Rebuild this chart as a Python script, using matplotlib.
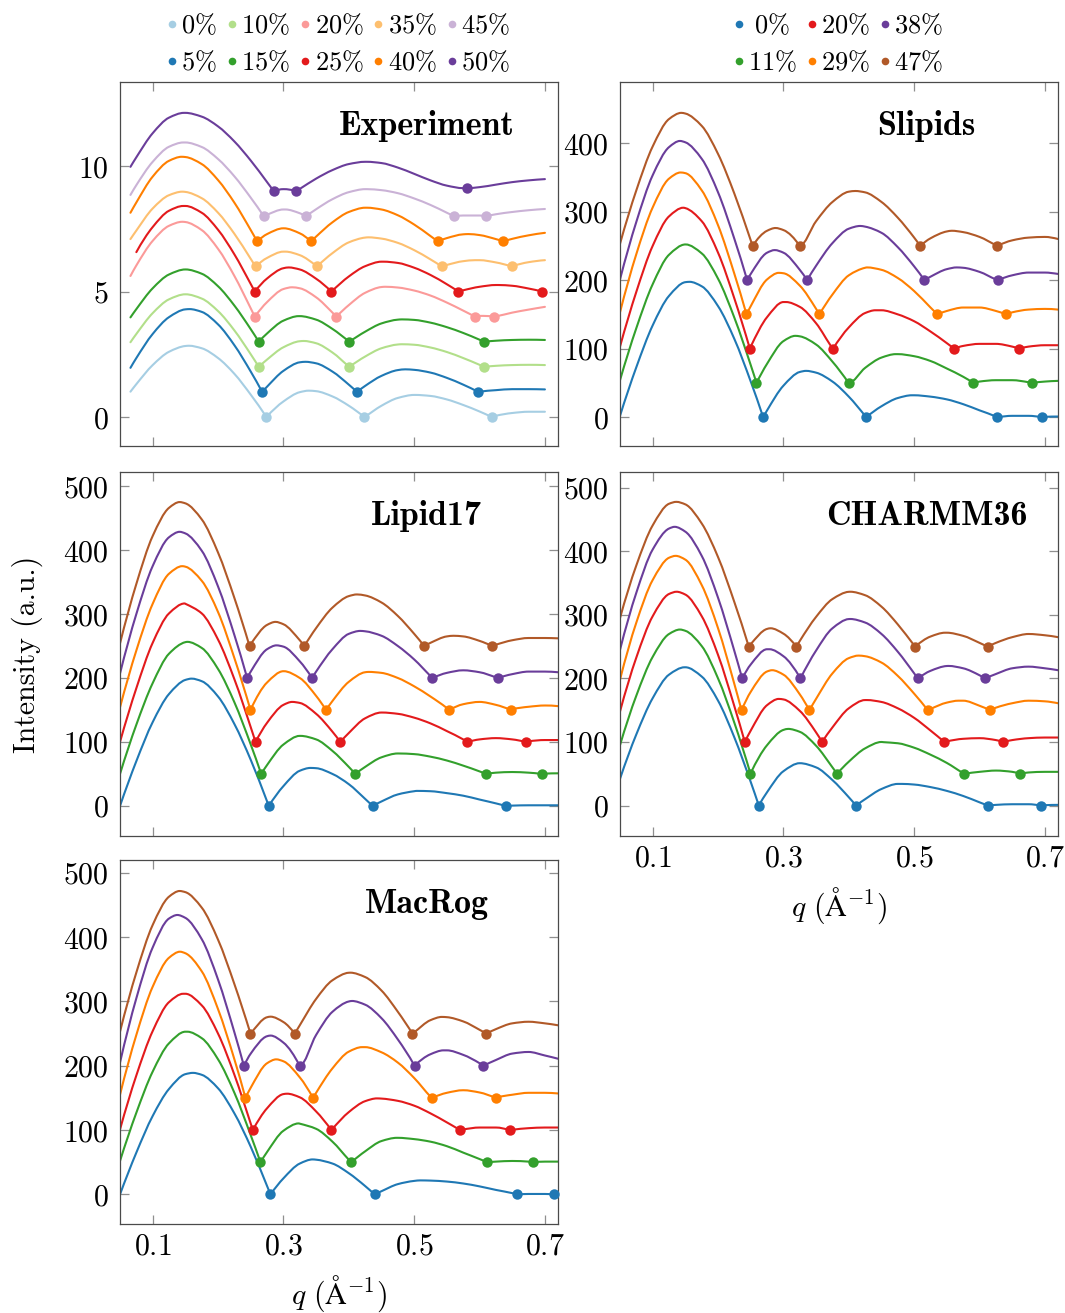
import io
import os
import numpy as np
import matplotlib
matplotlib.use("Agg")
import matplotlib.pyplot as plt
from matplotlib import mathtext
from matplotlib.lines import Line2D
from matplotlib.path import Path
from matplotlib.patches import PathPatch
from matplotlib.font_manager import FontProperties

nan = float("nan")

# ---------------- data ----------------
EXP_Q = [0.066, 0.075, 0.100, 0.125, 0.150, 0.175, 0.200, 0.225, 0.250, 0.275, 0.300, 0.325, 0.350, 0.375,
         0.400, 0.425, 0.450, 0.475, 0.500, 0.525, 0.550, 0.575, 0.600, 0.625, 0.650, 0.675, 0.700]
SIM_Q = [0.050, 0.075, 0.100, 0.125, 0.150, 0.175, 0.200, 0.225, 0.250, 0.275, 0.300, 0.325, 0.350, 0.375,
         0.400, 0.425, 0.450, 0.475, 0.500, 0.525, 0.550, 0.575, 0.600, 0.625, 0.650, 0.675, 0.700, 0.720]

EXP_LABELS = ["0", "5", "10", "15", "20", "25", "35", "40", "45", "50"]
SIM_LABELS = ["0", "11", "20", "29", "38", "47"]

# Experiment
exp_00 = [1.01, 1.31, 2.07, 2.60, 2.83, 2.74, 2.35, 1.72, 0.89, 0.03, 0.62, 0.99, 1.03, 0.82,
          0.45, 0.02, 0.45, 0.76, 0.88, 0.84, 0.70, 0.48, 0.22, 0.05, 0.16, 0.21, 0.21]
exp_00_pk = [(0.1555, 2.84), (0.3387, 1.05), (0.5015, 0.88)]
exp_00_mn = [(0.274, 0.0), (0.4237, 0.0), (0.6186, 0.0)]
exp_05 = [1.96, 2.35, 3.31, 3.98, 4.29, 4.19, 3.69, 2.86, 1.81, 1.21, 1.84, 2.18, 2.14, 1.81,
          1.29, 1.24, 1.64, 1.87, 1.88, 1.77, 1.56, 1.29, 1.01, 1.07, 1.11, 1.11, 1.10]
exp_05_pk = [(0.1565, 4.30), (0.3336, 2.20), (0.4863, 1.90)]
exp_05_mn = [(0.2675, 1.0), (0.4125, 1.0), (0.598, 1.0)]
exp_10 = [2.98, 3.31, 4.14, 4.69, 4.89, 4.72, 4.22, 3.45, 2.50, 2.29, 2.78, 3.02, 2.94, 2.57,
          2.02, 2.41, 2.74, 2.89, 2.88, 2.77, 2.59, 2.35, 2.08, 2.04, 2.07, 2.08, 2.07]
exp_10_pk = [(0.1504, 4.89), (0.331, 3.03), (0.4812, 2.90)]
exp_10_mn = [(0.2623, 2.0), (0.401, 2.0), (0.607, 2.0)]
exp_15 = [3.97, 4.30, 5.13, 5.68, 5.88, 5.71, 5.21, 4.44, 3.50, 3.33, 3.84, 4.02, 3.88, 3.51,
          3.02, 3.40, 3.73, 3.88, 3.87, 3.76, 3.58, 3.35, 3.08, 3.04, 3.07, 3.08, 3.07]
exp_15_pk = [(0.1504, 5.88), (0.3234, 4.02), (0.4812, 3.89)]
exp_15_mn = [(0.2623, 3.0), (0.401, 3.0), (0.607, 3.0)]
exp_20 = [5.62, 6.04, 7.02, 7.62, 7.77, 7.45, 6.70, 5.62, 4.33, 4.58, 5.10, 5.13, 4.77, 4.16,
          4.46, 4.95, 5.18, 5.16, 5.04, 4.84, 4.56, 4.24, 4.03, 4.01, 4.16, 4.28, 4.39]
exp_20_pk = [(0.1453, 7.78), (0.3133, 5.17), (0.4557, 5.19)]
exp_20_mn = [(0.2562, 4.0), (0.381, 4.0), (0.593, 4.0), (0.6226, 4.0)]
exp_25 = [nan, 6.57, 7.57, 8.22, 8.41, 8.14, 7.46, 6.48, 5.30, 5.52, 5.93, 5.88, 5.51, 5.04,
          5.60, 6.01, 6.19, 6.14, 5.95, 5.66, 5.29, 5.05, 5.19, 5.26, 5.23, 5.12, 5.03]
exp_25_pk = [(0.1468, 8.41), (0.308, 5.96), (0.4532, 6.19), (0.6287, 5.26)]
exp_25_mn = [(0.2562, 5.0), (0.3733, 5.0), (0.5677, 5.0), (0.696, 5.0)]
exp_35 = [7.09, 7.43, 8.31, 8.84, 8.97, 8.72, 8.14, 7.30, 6.30, 6.34, 6.59, 6.45, 6.03, 6.53,
          6.96, 7.15, 7.11, 6.94, 6.65, 6.28, 6.06, 6.21, 6.25, 6.16, 6.01, 6.17, 6.25]
exp_35_pk = [(0.1453, 8.98), (0.303, 6.59), (0.430, 7.16), (0.593, 6.25)]
exp_35_mn = [(0.2573, 6.0), (0.3514, 6.0), (0.5422, 6.0), (0.649, 6.0)]
exp_40 = [8.14, 8.55, 9.58, 10.21, 10.36, 10.08, 9.44, 8.54, 7.45, 7.29, 7.52, 7.32, 7.19, 7.76,
          8.17, 8.34, 8.27, 8.04, 7.67, 7.21, 7.13, 7.28, 7.25, 7.09, 7.10, 7.24, 7.34]
exp_40_pk = [(0.1443, 10.37), (0.3005, 7.52), (0.4278, 8.34), (0.583, 7.29)]
exp_40_mn = [(0.2598, 7.0), (0.3423, 7.0), (0.536, 7.0), (0.6363, 7.0)]
exp_45 = [8.85, 9.24, 10.17, 10.77, 10.94, 10.76, 10.28, 9.59, 8.74, 8.06, 8.27, 8.12, 8.28, 8.68,
          8.96, 9.08, 9.04, 8.92, 8.71, 8.45, 8.14, 8.03, 8.03, 8.08, 8.17, 8.24, 8.29]
exp_45_pk = [(0.1468, 10.94), (0.303, 8.27), (0.4278, 9.08)]
exp_45_mn = [(0.27, 8.0), (0.3346, 8.0), (0.561, 8.0), (0.61, 8.0)]
exp_50 = [9.97, 10.35, 11.31, 11.93, 12.12, 11.97, 11.58, 10.98, 10.22, 9.36, 9.08, 9.09, 9.50, 9.84,
          10.08, 10.17, 10.12, 9.94, 9.69, 9.43, 9.22, 9.12, 9.16, 9.26, 9.36, 9.43, 9.48]
exp_50_pk = [(0.1478, 12.12), (0.4278, 10.17)]
exp_50_mn = [(0.2852, 9.0), (0.3194, 9.0), (0.5805, 9.12)]

# Slipids
sli_00 = [2, 73, 134, 177, 197, 191, 162, 114, 52, 10, 46, 66, 65, 52,
          30, 2, 16, 28, 32, 30, 26, 19, 10, 1, 2, 2, 0.5, 1]
sli_00_pk = [(0.1565, 197.5), (0.3347, 67.6), (0.4965, 32)]
sli_00_mn = [(0.269, 0), (0.4267, 0), (0.6272, 0), (0.6959, 0)]
sli_11 = [54, 130, 194, 237, 252, 239, 202, 145, 76, 78, 111, 118, 106, 81,
          50, 72, 87, 92, 89, 82, 71, 59, 52, 54, 54, 51, 52, 53]
sli_11_pk = [(0.1504, 252), (0.3183, 118.7), (0.4718, 92)]
sli_11_mn = [(0.2588, 50), (0.3997, 50), (0.5905, 50), (0.6797, 50)]
sli_20 = [103, 183, 250, 293, 305, 286, 240, 173, 103, 146, 168, 161, 137, 101,
          131, 152, 156, 150, 140, 125, 108, 104, 107, 107, 103, 103, 105, 105]
sli_20_pk = [(0.1468, 305.6), (0.3041, 168), (0.4405, 156)]
sli_20_mn = [(0.2486, 100), (0.3759, 100), (0.561, 100), (0.6608, 100)]
sli_29 = [153, 238, 306, 348, 356, 331, 280, 209, 162, 201, 210, 192, 158, 179,
          207, 218, 215, 203, 184, 160, 155, 160, 160, 155, 153, 157, 158, 157]
sli_29_pk = [(0.1427, 357), (0.2928, 210.6), (0.4278, 218.5)]
sli_29_mn = [(0.2435, 150), (0.355, 150), (0.5356, 150), (0.6405, 150)]
sli_38 = [201, 285, 353, 394, 401, 377, 328, 260, 209, 240, 240, 215, 221, 254,
          275, 278, 269, 248, 220, 205, 216, 218, 212, 201, 207, 211, 211, 209]
sli_38_pk = [(0.1417, 403), (0.2867, 243.8), (0.4176, 279), (0.565, 218.5)]
sli_38_mn = [(0.2445, 200), (0.3362, 200), (0.5157, 200), (0.6278, 200)]
sli_47 = [253, 331, 395, 435, 443, 425, 384, 326, 258, 272, 273, 250, 286, 314,
          329, 328, 314, 291, 262, 261, 271, 270, 263, 251, 258, 262, 263, 260]
sli_47_pk = [(0.1438, 444), (0.2878, 276), (0.4099, 330), (0.5575, 272)]
sli_47_mn = [(0.2529, 250), (0.3249, 250), (0.5092, 250), (0.6272, 250)]

# Lipid17
l17_00 = [0, 70, 131, 175, 197, 195, 171, 128, 72, 7, 31, 55, 59, 50,
          34, 11, 7, 18, 23, 23, 20, 16, 10, 4, 0.5, 1, 1, 1]
l17_00_pk = [(0.1595, 199), (0.3412, 59.4), (0.5041, 23.5)]
l17_00_mn = [(0.2776, 0), (0.4364, 0), (0.64, 0)]
l17_11 = [50, 127, 192, 238, 256, 247, 214, 162, 96, 64, 96, 109.5, 104, 86,
          61, 61, 76, 82, 81, 77, 71, 63, 54, 52, 53, 52, 50.5, 51]
l17_11_pk = [(0.153, 256.5), (0.326, 109.5), (0.476, 82)]
l17_11_mn = [(0.266, 50), (0.41, 50), (0.61, 50), (0.695, 50)]
l17_20 = [100, 184, 255, 301, 316, 301, 260, 198, 123, 130, 158, 161, 144, 116,
          114, 137, 146, 144, 138, 129, 117, 104, 104, 106, 104, 101, 103, 103]
l17_20_pk = [(0.1489, 316.5), (0.3133, 162.6), (0.4507, 146)]
l17_20_mn = [(0.2573, 100), (0.387, 100), (0.5814, 100), (0.671, 100)]
l17_29 = [154, 243, 316, 363, 374, 352, 303, 231, 151, 193, 210.6, 200, 172, 164,
          194, 209, 208, 200, 187, 171, 153, 159, 162.6, 158, 151, 155, 157, 156]
l17_29_pk = [(0.1453, 374.8), (0.3005, 210.6), (0.4303, 209.5)]
l17_29_mn = [(0.2496, 150), (0.3652, 150), (0.5534, 150), (0.648, 150)]
l17_38 = [207, 300, 375, 420, 426, 399, 343, 267, 210, 245, 249, 226, 210, 245,
          269, 273, 266, 250, 229, 203, 208, 212, 209, 201, 206, 210, 210, 209]
l17_38_pk = [(0.1412, 428.5), (0.2893, 251), (0.4176, 273.6)]
l17_38_mn = [(0.2445, 200), (0.3438, 200), (0.528, 200), (0.6276, 200)]
l17_47 = [254, 347, 422, 466, 473, 448, 396, 325, 253, 283, 284, 259, 278, 310,
          328, 329, 318, 297, 269, 255, 265, 265, 258, 252, 259, 262.5, 262.5, 262]
l17_47_pk = [(0.1412, 475), (0.2878, 287.7), (0.4125, 330.6), (0.56, 266)]
l17_47_mn = [(0.2481, 250), (0.332, 250), (0.5153, 250), (0.6194, 250)]

# CHARMM36
c36_00 = [42, 112, 169, 206, 217.6, 203, 165, 107, 37, 21, 54, 66.6, 60, 40,
          13, 10, 26, 34, 33, 29, 23, 15, 5, 1, 2, 2, 0.5, 1]
c36_00_pk = [(0.1489, 217.6), (0.3249, 66.6), (0.4812, 34)]
c36_00_mn = [(0.2623, 0), (0.411, 0), (0.6125, 0), (0.694, 0)]
c36_11 = [95, 173, 234, 270, 275, 251, 200, 130, 51, 95, 119, 116, 94, 60,
          69, 90, 100, 98, 91, 80, 67, 51, 53, 55, 53, 52, 53, 53]
c36_11_pk = [(0.1417, 277), (0.3072, 120.6), (0.4532, 99.7)]
c36_11_mn = [(0.2496, 50), (0.382, 50), (0.5768, 50), (0.6618, 50)]
c36_20 = [148, 233, 298, 333, 332, 298, 237, 156, 118, 158, 167, 149, 115, 123,
          153, 166, 163, 153, 138, 118, 101, 105, 106, 103, 103, 106, 107, 107]
c36_20_pk = [(0.1366, 336.5), (0.2928, 167.8), (0.4278, 166)]
c36_20_mn = [(0.2409, 100), (0.3591, 100), (0.5462, 100), (0.6364, 100)]
c36_29 = [198, 288, 355, 390, 387, 347, 279, 191, 179, 211, 206, 175, 168, 208,
          232, 235, 225, 204, 176, 152, 162, 165, 157, 154, 161, 165, 164, 161]
c36_29_pk = [(0.1351, 393), (0.2827, 213), (0.415, 236), (0.5676, 165)]
c36_29_mn = [(0.2359, 150), (0.3397, 150), (0.5209, 150), (0.616, 150)]
c36_38 = [245, 335, 403, 436, 431, 393, 327, 243, 222, 246, 235, 202, 244, 279,
          293.5, 288, 270, 242, 208, 212, 219.6, 216, 205, 207, 216, 218.6, 216, 213]
c36_38_pk = [(0.1336, 438.7), (0.2786, 246), (0.4023, 293.6), (0.5524, 219.7)]
c36_38_mn = [(0.2369, 200), (0.326, 200), (0.5056, 200), (0.6084, 200)]
c36_47 = [295, 378, 441, 475, 474, 444, 391, 320, 254, 278, 270.5, 259, 297, 325,
          336.4, 331, 313, 285, 252, 266, 272, 267, 256, 256, 265, 270, 268, 265]
c36_47_pk = [(0.1362, 478), (0.2802, 279), (0.4023, 336.5), (0.5473, 272)]
c36_47_mn = [(0.247, 250), (0.3198, 250), (0.5015, 250), (0.6123, 250)]

# MacRog
mac_00 = [0, 65, 122, 164, 187, 186, 165, 126, 74, 13, 25, 48, 54, 48,
          33, 13, 5, 16, 21, 21.5, 20, 17, 12.5, 7, 2, 0.7, 0.7, 0]
mac_00_pk = [(0.1616, 189), (0.3447, 54.4), (0.5092, 21.8)]
mac_00_mn = [(0.2802, 0), (0.4394, 0), (0.6577, 0), (0.7142, 0)]
mac_11 = [52, 127, 191, 235, 253, 243, 210, 158, 92, 66, 99, 110, 102, 82,
          54, 67, 83, 88, 86, 82, 75, 65, 55, 51, 52, 51, 51, 51]
mac_11_pk = [(0.153, 253), (0.3234, 110.4), (0.4736, 88)]
mac_11_mn = [(0.2649, 50), (0.4038, 50), (0.6117, 50), (0.6812, 50)]
mac_20 = [101, 185, 254, 299, 312, 294, 250, 186, 110, 134, 156, 151, 129, 102,
          128, 145, 149, 145.5, 138, 126, 112, 101, 104, 104, 100.5, 103, 104, 104]
mac_20_pk = [(0.1468, 312), (0.3056, 156.6), (0.443, 149.3)]
mac_20_mn = [(0.2532, 100), (0.3733, 100), (0.5702, 100), (0.6466, 100)]
mac_29 = [155, 248, 323, 368, 375, 347, 288, 210, 166, 204, 207, 182, 158, 196,
          222, 229, 221, 205, 181, 152, 158, 162, 158.5, 150.3, 155, 158, 158, 157]
mac_29_pk = [(0.1417, 377.4), (0.2889, 210), (0.4202, 229)]
mac_29_mn = [(0.2419, 150), (0.3453, 150), (0.527, 150), (0.6244, 150)]
mac_38 = [205, 305, 384, 429, 430, 397, 334, 252, 219, 246, 236, 200, 248, 284,
          300, 295, 274, 241, 201, 218, 224, 217, 204, 209, 219, 221.5, 216, 211]
mac_38_pk = [(0.1377, 434.5), (0.2802, 247), (0.4048, 300.8), (0.5448, 224)]
mac_38_mn = [(0.2395, 200), (0.3249, 200), (0.5005, 200), (0.6058, 200)]
mac_47 = [253, 345, 419, 463, 470, 446, 396, 327, 250.5, 275.5, 268, 263, 304, 333,
          344.7, 338, 317, 284, 252, 271, 275.6, 269, 256, 257, 266, 268.5, 266, 263]
mac_47_pk = [(0.1412, 471.8), (0.2802, 276.4), (0.4023, 344.8), (0.5423, 276)]
mac_47_mn = [(0.2496, 250), (0.3173, 250), (0.4974, 250), (0.6104, 250)]

EXP_COLORS = ["#a6cee3", "#1f78b4", "#b2df8a", "#33a02c", "#fb9a99",
              "#e31a1c", "#fdbf6f", "#ff7f00", "#cab2d6", "#6a3d9a"]
SIM_COLORS = ["#1f78b4", "#33a02c", "#e31a1c", "#ff7f00", "#6a3d9a", "#b15928"]

# ---------------- styling ----------------
plt.rcParams.update({"mathtext.fontset": "cm", "font.family": "DejaVu Serif",
                     "axes.unicode_minus": False})
FS = 21.5
FS_LEG = 19
FS_TITLE = 24.5
W, H = 1065, 1313
TTF = os.path.join(matplotlib.get_data_path(), "fonts", "ttf")
FP_BOLD = FontProperties(fname=os.path.join(TTF, "cmb10.ttf"), size=FS_TITLE)
FP_ROM = FontProperties(fname=os.path.join(TTF, "cmr10.ttf"), size=FS)

fig = plt.figure(figsize=(W / 100, H / 100), dpi=100)


def mt_ok(s):
    try:
        mathtext.math_to_image(s, io.BytesIO(), dpi=40, format="png")
        return True
    except Exception:
        return False


ANG = r"\mathrm{\AA}" if mt_ok(r"$\mathrm{\AA}^{-1}$") else r"\mathrm{Å}"
XLABEL = r"$q\ (" + ANG + r"^{-1})$"


def make_axes(left, top, ylim, yticks, title, xlabels):
    ax = fig.add_axes([left / W, 1 - (top + 364) / H, 438 / W, 364 / H])
    ax.set_xlim(0.05, 0.72)
    ax.set_ylim(*ylim)
    ax.set_xticks([0.1, 0.3, 0.5, 0.7])
    ax.set_xticklabels([r"$0.1$", r"$0.3$", r"$0.5$", r"$0.7$"])
    ax.set_yticks(yticks)
    ax.set_yticklabels([rf"${v}$" for v in yticks])
    ax.tick_params(direction="in", length=6.5, width=0.9, color="#8f8f8f",
                   top=True, right=True, labelsize=FS, pad=8)
    ax.tick_params(axis="x", pad=6, labelbottom=xlabels)
    for s in ax.spines.values():
        s.set_color("#4a4a4a")
        s.set_linewidth(0.9)
    ax.text(0.70, 0.854, title, transform=ax.transAxes,
            ha="center", va="baseline", fontproperties=FP_BOLD)
    return ax


def slopes(x, y):
    """Shape-preserving tangents at the read points (used for drawing a smooth path)."""
    n = len(x)
    h = np.diff(x)
    d = np.diff(y) / h
    if n == 2:
        return np.array([d[0], d[0]])
    m = np.zeros(n)
    for k in range(1, n - 1):
        if d[k - 1] * d[k] > 0:
            w1 = 2 * h[k] + h[k - 1]
            w2 = h[k] + 2 * h[k - 1]
            m[k] = (w1 + w2) / (w1 / d[k - 1] + w2 / d[k])

    def end(h0, h1, d0, d1):
        mm = ((2 * h0 + h1) * d0 - h0 * d1) / (h0 + h1)
        if np.sign(mm) != np.sign(d0):
            mm = 0.0
        elif np.sign(d0) != np.sign(d1) and abs(mm) > abs(3 * d0):
            mm = 3 * d0
        return mm

    m[0] = end(h[0], h[1], d[0], d[1])
    m[-1] = end(h[-1], h[-2], d[-1], d[-2])
    return m


def smooth_path(q, y, cusps):
    """Bezier path through the points, with sharp corners at the cusp points."""
    verts, codes = [], []
    idx = [0] + [i for i in range(1, len(q) - 1) if q[i] in cusps] + [len(q) - 1]
    for a, b in zip(idx[:-1], idx[1:]):
        xs, ys = q[a:b + 1], y[a:b + 1]
        m = slopes(xs, ys)
        if not verts:
            verts.append((xs[0], ys[0]))
            codes.append(Path.MOVETO)
        for i in range(len(xs) - 1):
            dx = xs[i + 1] - xs[i]
            verts += [(xs[i] + dx / 3, ys[i] + m[i] * dx / 3),
                      (xs[i + 1] - dx / 3, ys[i + 1] - m[i + 1] * dx / 3),
                      (xs[i + 1], ys[i + 1])]
            codes += [Path.CURVE4] * 3
    return Path(verts, codes)


def draw(ax, grid, series, colors):
    for (vals, pk, mn), col in zip(series, colors):
        q = np.array(list(grid) + [p[0] for p in pk] + [m[0] for m in mn], float)
        y = np.array(list(vals) + [p[1] for p in pk] + [m[1] for m in mn], float)
        o = np.argsort(q, kind="stable")
        q, y = q[o], y[o]
        ok = ~np.isnan(y)
        q, y = q[ok], y[ok]
        ymin = min(m[1] for m in mn)
        cusps = set(m[0] for m in mn if m[1] <= ymin + 1e-9)
        ax.add_patch(PathPatch(smooth_path(q, y, cusps), facecolor="none",
                               edgecolor=col, lw=1.5, joinstyle="round",
                               capstyle="round", zorder=2))
        ax.plot([m[0] for m in mn], [m[1] for m in mn], "o", color=col, ms=7.5,
                mew=0, zorder=3, clip_on=False)


def legend(ax, labels, colors, ncol, pad_single=False):
    handles = [Line2D([], [], ls="none", marker="o", ms=5.5, mew=0, color=c) for c in colors]
    texts = []
    for l in labels:
        pre = r"\;" if (pad_single and len(l) == 1) else ""
        texts.append(rf"${pre}{l}\%$")
    ax.legend(handles, texts, ncol=ncol, loc="lower center",
              bbox_to_anchor=(0.5, 1 + 7 / 364), frameon=False, fontsize=FS_LEG,
              handlelength=0.3, handletextpad=0.2, columnspacing=0.42,
              labelspacing=0.42, borderpad=0, borderaxespad=0)


ax_exp = make_axes(120, 82, (-1.155, 13.35), [0, 5, 10], "Experiment", False)
draw(ax_exp, EXP_Q,
     [(exp_00, exp_00_pk, exp_00_mn), (exp_05, exp_05_pk, exp_05_mn),
      (exp_10, exp_10_pk, exp_10_mn), (exp_15, exp_15_pk, exp_15_mn),
      (exp_20, exp_20_pk, exp_20_mn), (exp_25, exp_25_pk, exp_25_mn),
      (exp_35, exp_35_pk, exp_35_mn), (exp_40, exp_40_pk, exp_40_mn),
      (exp_45, exp_45_pk, exp_45_mn), (exp_50, exp_50_pk, exp_50_mn)], EXP_COLORS)
legend(ax_exp, EXP_LABELS, EXP_COLORS, 5)

ax_sli = make_axes(620, 82, (-42, 489), [0, 100, 200, 300, 400], "Slipids", False)
draw(ax_sli, SIM_Q,
     [(sli_00, sli_00_pk, sli_00_mn), (sli_11, sli_11_pk, sli_11_mn),
      (sli_20, sli_20_pk, sli_20_mn), (sli_29, sli_29_pk, sli_29_mn),
      (sli_38, sli_38_pk, sli_38_mn), (sli_47, sli_47_pk, sli_47_mn)], SIM_COLORS)
legend(ax_sli, SIM_LABELS, SIM_COLORS, 3, pad_single=True)

ax_l17 = make_axes(120, 472, (-47, 522), [0, 100, 200, 300, 400, 500], "Lipid17", False)
draw(ax_l17, SIM_Q,
     [(l17_00, l17_00_pk, l17_00_mn), (l17_11, l17_11_pk, l17_11_mn),
      (l17_20, l17_20_pk, l17_20_mn), (l17_29, l17_29_pk, l17_29_mn),
      (l17_38, l17_38_pk, l17_38_mn), (l17_47, l17_47_pk, l17_47_mn)], SIM_COLORS)

ax_c36 = make_axes(620, 472, (-48, 525), [0, 100, 200, 300, 400, 500], "CHARMM36", True)
draw(ax_c36, SIM_Q,
     [(c36_00, c36_00_pk, c36_00_mn), (c36_11, c36_11_pk, c36_11_mn),
      (c36_20, c36_20_pk, c36_20_mn), (c36_29, c36_29_pk, c36_29_mn),
      (c36_38, c36_38_pk, c36_38_mn), (c36_47, c36_47_pk, c36_47_mn)], SIM_COLORS)

ax_mac = make_axes(120, 860, (-46, 520), [0, 100, 200, 300, 400, 500], "MacRog", True)
draw(ax_mac, SIM_Q,
     [(mac_00, mac_00_pk, mac_00_mn), (mac_11, mac_11_pk, mac_11_mn),
      (mac_20, mac_20_pk, mac_20_mn), (mac_29, mac_29_pk, mac_29_mn),
      (mac_38, mac_38_pk, mac_38_mn), (mac_47, mac_47_pk, mac_47_mn)], SIM_COLORS)

fig.text(27 / W, 1 - 654 / H, "Intensity (a.u.)", rotation=90,
         ha="center", va="center", fontproperties=FP_ROM)
fig.text(839 / W, 1 - 906 / H, XLABEL, ha="center", va="center", fontsize=FS)
fig.text(339 / W, 1 - 1294 / H, XLABEL, ha="center", va="center", fontsize=FS)

fig.savefig("out.png", dpi=100)
